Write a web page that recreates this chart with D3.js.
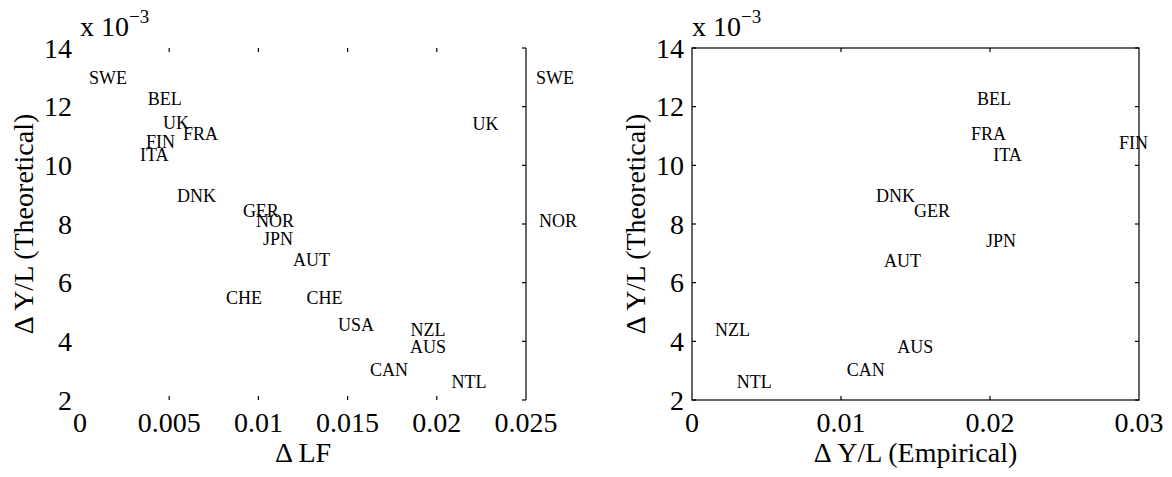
<!DOCTYPE html>
<html>
<head>
<meta charset="utf-8">
<script src="https://cdn.jsdelivr.net/npm/d3@7"></script>
<style>
  html, body { margin: 0; padding: 0; background: #fff; }
  svg { display: block; }
  text { font-family: "Liberation Serif", "Times New Roman", serif; fill: #000; }
</style>
</head>
<body>
<svg id="chart" width="1172" height="477"></svg>
<script>
// ---- data ----
const yTicks = [2, 4, 6, 8, 10, 12, 14];            // x 10^-3
const leftXTicks = [0, 0.005, 0.01, 0.015, 0.02, 0.025];
const leftXTickLabels = ["0", "0.005", "0.01", "0.015", "0.02", "0.025"];
const rightXTicks = [0, 0.01, 0.02, 0.03];
const rightXTickLabels = ["0", "0.01", "0.02", "0.03"];

// Left panel: ΔLF vs ΔY/L (theoretical, x 10^-3)
const leftCountries = ["SWE","BEL","UK","FRA","FIN","ITA","DNK","GER","NOR","JPN","AUT","CHE","CHE","USA","NZL","AUS","CAN","NTL","UK","SWE","NOR"];
const leftX = [0.0005,0.0038,0.00465,0.00577,0.0037,0.00336,0.00544,0.00913,0.00987,0.01026,0.01194,0.00818,0.0127,0.01446,0.01853,0.0185,0.01626,0.02083,0.0220,0.02556,0.02573];
const leftY = [12.98,12.26,11.44,11.07,10.78,10.35,8.95,8.44,8.10,7.49,6.78,5.48,5.48,4.56,4.40,3.81,3.03,2.61,11.41,12.97,8.11];

// Right panel: ΔY/L empirical vs ΔY/L theoretical (x 10^-3)
const rightCountries = ["BEL","FRA","ITA","FIN","DNK","GER","JPN","AUT","NZL","NTL","CAN","AUS"];
const rightX = [0.01913,0.01872,0.02022,0.02866,0.01235,0.0149,0.01973,0.01289,0.00154,0.0030,0.01038,0.01378];
const rightY = [12.26,11.05,10.36,10.76,8.95,8.45,7.43,6.74,4.39,2.62,3.02,3.81];

// ---- drawing ----
const svg = d3.select("#chart");
const plotTop = 48, plotBottom = 400;
const tickLen = 4;
const y = d3.scaleLinear().domain([2, 14]).range([plotBottom, plotTop]);

function panel(opts) {
  const g = svg.append("g");
  const x = d3.scaleLinear().domain(opts.xDomain).range([opts.x0, opts.x1]);
  const stroke = "#000", sw = 1.2;

  if (opts.fullBox) {
    g.append("rect").attr("x", opts.x0).attr("y", plotTop)
      .attr("width", opts.x1 - opts.x0).attr("height", plotBottom - plotTop)
      .attr("fill", "none").attr("stroke", stroke).attr("stroke-width", sw);
  } else {
    g.append("line").attr("x1", opts.x1).attr("x2", opts.x1)
      .attr("y1", plotTop).attr("y2", plotBottom).attr("stroke", stroke).attr("stroke-width", sw);
  }

  // x ticks (top and bottom, inward)
  const xt = opts.xTicks.slice(1, -1);
  g.selectAll(".xtb").data(xt).join("line")
    .attr("x1", d => x(d)).attr("x2", d => x(d))
    .attr("y1", plotBottom).attr("y2", plotBottom - tickLen)
    .attr("stroke", stroke).attr("stroke-width", sw);
  g.selectAll(".xtt").data(xt).join("line")
    .attr("x1", d => x(d)).attr("x2", d => x(d))
    .attr("y1", plotTop).attr("y2", plotTop + tickLen)
    .attr("stroke", stroke).attr("stroke-width", sw);

  // y ticks
  g.selectAll(".ytr").data(yTicks).join("line")
    .attr("x1", opts.x1).attr("x2", opts.x1 - tickLen)
    .attr("y1", d => y(d)).attr("y2", d => y(d))
    .attr("stroke", stroke).attr("stroke-width", sw);
  if (opts.fullBox) {
    g.selectAll(".ytl").data(yTicks).join("line")
      .attr("x1", opts.x0).attr("x2", opts.x0 + tickLen)
      .attr("y1", d => y(d)).attr("y2", d => y(d))
      .attr("stroke", stroke).attr("stroke-width", sw);
  }

  // tick labels
  g.selectAll(".xl").data(opts.xTicks).join("text")
    .attr("x", d => x(d)).attr("y", 432)
    .attr("text-anchor", "middle").attr("font-size", 28)
    .text((d, i) => opts.xTickLabels[i]);
  g.selectAll(".yl").data(yTicks).join("text")
    .attr("x", opts.x0 - 8).attr("y", d => y(d) + 9.5)
    .attr("text-anchor", "end").attr("font-size", 28)
    .text(d => d);

  // exponent
  const ex = g.append("text").attr("x", opts.x0).attr("y", 36).attr("font-size", 28);
  ex.append("tspan").text("x 10");
  ex.append("tspan").attr("font-size", 19).attr("dy", -13).text("\u22123");

  // axis labels
  g.append("text").attr("x", (opts.x0 + opts.x1) / 2).attr("y", 462)
    .attr("text-anchor", "middle").attr("font-size", 28).text(opts.xLabel);
  g.append("text")
    .attr("transform", `translate(${opts.x0 - 47},${(plotTop + plotBottom) / 2}) rotate(-90)`)
    .attr("text-anchor", "middle").attr("font-size", 28).text("\u0394 Y/L (Theoretical)");

  // country labels
  g.selectAll(".c").data(opts.names).join("text")
    .attr("x", (d, i) => x(opts.xs[i]))
    .attr("y", (d, i) => y(opts.ys[i]))
    .attr("dy", "0.33em")
    .attr("font-size", 18)
    .text(d => d);
}

panel({
  x0: 80, x1: 526, xDomain: [0, 0.025], fullBox: false,
  xTicks: leftXTicks, xTickLabels: leftXTickLabels, xLabel: "\u0394 LF",
  names: leftCountries, xs: leftX, ys: leftY
});
panel({
  x0: 692, x1: 1139, xDomain: [0, 0.03], fullBox: true,
  xTicks: rightXTicks, xTickLabels: rightXTickLabels, xLabel: "\u0394 Y/L (Empirical)",
  names: rightCountries, xs: rightX, ys: rightY
});
</script>
</body>
</html>
